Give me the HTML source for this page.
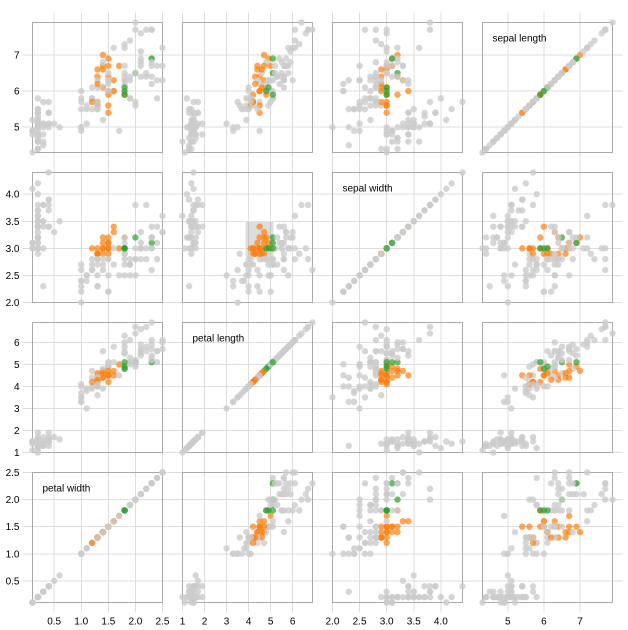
<!DOCTYPE html>
<html><head><meta charset="utf-8">
<style>
html,body{margin:0;padding:0;background:#fff;}
svg{display:block;font-family:"Liberation Sans",sans-serif;font-size:10px;}
.grid line{stroke:#ddd;shape-rendering:crispEdges;}
.frame{fill:none;stroke:#aaa;shape-rendering:crispEdges;}
</style></head>
<body>
<svg id="chart" width="628" height="630"></svg>
<script>
const traits = ["sepal length","sepal width","petal length","petal width"];
const species = ["setosa","versicolor","virginica"];
const speciesColors = ["#1f77b4","#ff7f0e","#2ca02c"];
const sepalLength = [5.1,4.9,4.7,4.6,5.0,5.4,4.6,5.0,4.4,4.9,5.4,4.8,4.8,4.3,5.8,5.7,5.4,5.1,5.7,5.1,5.4,5.1,4.6,5.1,4.8,5.0,5.0,5.2,5.2,4.7,4.8,5.4,5.2,5.5,4.9,5.0,5.5,4.9,4.4,5.1,5.0,4.5,4.4,5.0,5.1,4.8,5.1,4.6,5.3,5.0,
7.0,6.4,6.9,5.5,6.5,5.7,6.3,4.9,6.6,5.2,5.0,5.9,6.0,6.1,5.6,6.7,5.6,5.8,6.2,5.6,5.9,6.1,6.3,6.1,6.4,6.6,6.8,6.7,6.0,5.7,5.5,5.5,5.8,6.0,5.4,6.0,6.7,6.3,5.6,5.5,5.5,6.1,5.8,5.0,5.6,5.7,5.7,6.2,5.1,5.7,
6.3,5.8,7.1,6.3,6.5,7.6,4.9,7.3,6.7,7.2,6.5,6.4,6.8,5.7,5.8,6.4,6.5,7.7,7.7,6.0,6.9,5.6,7.7,6.3,6.7,7.2,6.2,6.1,6.4,7.2,7.4,7.9,6.4,6.3,6.1,7.7,6.3,6.4,6.0,6.9,6.7,6.9,5.8,6.8,6.7,6.7,6.3,6.5,6.2,5.9];
const sepalWidth = [3.5,3.0,3.2,3.1,3.6,3.9,3.4,3.4,2.9,3.1,3.7,3.4,3.0,3.0,4.0,4.4,3.9,3.5,3.8,3.8,3.4,3.7,3.6,3.3,3.4,3.0,3.4,3.5,3.4,3.2,3.1,3.4,4.1,4.2,3.1,3.2,3.5,3.1,3.0,3.4,3.5,2.3,3.2,3.5,3.8,3.0,3.8,3.2,3.7,3.3,
3.2,3.2,3.1,2.3,2.8,2.8,3.3,2.4,2.9,2.7,2.0,3.0,2.2,2.9,2.9,3.1,3.0,2.7,2.2,2.5,3.2,2.8,2.5,2.8,2.9,3.0,2.8,3.0,2.9,2.6,2.4,2.4,2.7,2.7,3.0,3.4,3.1,2.3,3.0,2.5,2.6,3.0,2.6,2.3,2.7,3.0,2.9,2.9,2.5,2.8,
3.3,2.7,3.0,2.9,3.0,3.0,2.5,2.9,2.5,3.6,3.2,2.7,3.0,2.5,2.8,3.2,3.0,3.8,2.6,2.2,3.2,2.8,2.8,2.7,3.3,3.2,2.8,3.0,2.8,3.0,2.8,3.8,2.8,2.8,2.6,3.0,3.4,3.1,3.0,3.1,3.1,3.1,2.7,3.2,3.3,3.0,2.5,3.0,3.4,3.0];
const petalLength = [1.4,1.4,1.3,1.5,1.4,1.7,1.4,1.5,1.4,1.5,1.5,1.6,1.4,1.1,1.2,1.5,1.3,1.4,1.7,1.5,1.7,1.5,1.0,1.7,1.9,1.6,1.6,1.5,1.4,1.6,1.6,1.5,1.5,1.4,1.5,1.2,1.3,1.5,1.3,1.5,1.3,1.3,1.3,1.6,1.9,1.4,1.6,1.4,1.5,1.4,
4.7,4.5,4.9,4.0,4.6,4.5,4.7,3.3,4.6,3.9,3.5,4.2,4.0,4.7,3.6,4.4,4.5,4.1,4.5,3.9,4.8,4.0,4.9,4.7,4.3,4.4,4.8,5.0,4.5,3.5,3.8,3.7,3.9,5.1,4.5,4.5,4.7,4.4,4.1,4.0,4.4,4.6,4.0,3.3,4.2,4.2,4.2,4.3,3.0,4.1,
6.0,5.1,5.9,5.6,5.8,6.6,4.5,6.3,5.8,6.1,5.1,5.3,5.5,5.0,5.1,5.3,5.5,6.7,6.9,5.0,5.7,4.9,6.7,4.9,5.7,6.0,4.8,4.9,5.6,5.8,6.1,6.4,5.6,5.1,5.6,6.1,5.6,5.5,4.8,5.4,5.6,5.1,5.1,5.9,5.7,5.2,5.0,5.2,5.4,5.1];
const petalWidth = [0.2,0.2,0.2,0.2,0.2,0.4,0.3,0.2,0.2,0.1,0.2,0.2,0.1,0.1,0.2,0.4,0.4,0.3,0.3,0.3,0.2,0.4,0.2,0.5,0.2,0.2,0.4,0.2,0.2,0.2,0.2,0.4,0.1,0.2,0.1,0.2,0.2,0.1,0.2,0.2,0.3,0.3,0.2,0.6,0.4,0.3,0.2,0.2,0.2,0.2,
1.4,1.5,1.5,1.3,1.5,1.3,1.6,1.0,1.3,1.4,1.0,1.5,1.0,1.4,1.3,1.4,1.5,1.0,1.5,1.1,1.8,1.3,1.5,1.2,1.3,1.4,1.4,1.7,1.5,1.0,1.1,1.0,1.2,1.6,1.5,1.6,1.5,1.3,1.3,1.3,1.2,1.4,1.2,1.0,1.3,1.2,1.3,1.3,1.1,1.3,
2.5,1.9,2.1,1.8,2.2,2.1,1.7,1.8,1.8,2.5,2.0,1.9,2.1,2.0,2.4,2.3,1.8,2.2,2.3,1.5,2.3,2.0,2.0,1.8,2.1,1.8,1.8,1.8,2.1,1.6,1.9,2.0,2.2,1.5,1.4,2.3,2.4,1.8,1.8,2.1,2.4,2.3,1.9,2.3,2.5,2.3,1.9,2.0,2.3,1.8];
const speciesIndex = Array.from({length:150},(_,k)=>Math.floor(k/50));
const tickValues = [[5,6,7],[2.0,2.5,3.0,3.5,4.0],[1,2,3,4,5,6],[0.5,1.0,1.5,2.0,2.5]];
const tickLabels = [["5","6","7"],["2.0","2.5","3.0","3.5","4.0"],["1","2","3","4","5","6"],["0.5","1.0","1.5","2.0","2.5"]];
const brushX = [3.84,5.15]; // petal length
const brushY = [2.84,3.505]; // sepal width

const values = [sepalLength,sepalWidth,petalLength,petalWidth];
const NS="http://www.w3.org/2000/svg";
const svg=document.getElementById("chart");
const size=150,pad=20,n=4,ox=22.5,oy=12.5;
function mk(tag,attrs,parent){const e=document.createElementNS(NS,tag);for(const k in attrs)e.setAttribute(k,attrs[k]);(parent||svg).appendChild(e);return e;}
function ext(a){return [Math.min(...a),Math.max(...a)];}
const domains=values.map(ext);
function xs(t,v){const d=domains[t];return pad/2+(v-d[0])/(d[1]-d[0])*(size-pad);}
function ys(t,v){const d=domains[t];return size-pad/2-(v-d[0])/(d[1]-d[0])*(size-pad);}
const colTrait=c=>n-1-c;

// grid + axes
const grid=mk("g",{class:"grid"});


for(let c=0;c<n;c++){
  const t=colTrait(c);
  tickValues[t].forEach((v,k)=>{
    const x=ox+c*size+xs(t,v);
    mk("line",{x1:x,x2:x,y1:oy,y2:oy+size*n},grid);
    const tx=mk("text",{x:x,y:oy+size*n+12,"text-anchor":"middle",fill:"#000"});
    tx.textContent=tickLabels[t][k];
    
    
  });
}
for(let r=0;r<n;r++){
  const t=r;
  tickValues[t].forEach((v,k)=>{
    const y=oy+r*size+ys(t,v);
    mk("line",{x1:ox,x2:ox+size*n,y1:y,y2:y},grid);
    const ty=mk("text",{x:ox-3,y:y+3.5,"text-anchor":"end",fill:"#000"});
    ty.textContent=tickLabels[t][k];
    
    
  });
}
function selected(k){
  return petalLength[k]>=brushX[0]&&petalLength[k]<=brushX[1]&&sepalWidth[k]>=brushY[0]&&sepalWidth[k]<=brushY[1];
}
for(let r=0;r<n;r++)for(let c=0;c<n;c++){
  const tx=colTrait(c),ty=r;
  const g=mk("g",{transform:`translate(${ox+c*size},${oy+r*size})`});
  
  
  const f=mk("rect",{class:"frame",x:pad/2,y:pad/2,width:size-pad,height:size-pad},g);
  
  
  if(tx===ty){
    const lab=mk("text",{x:pad,y:pad+9,fill:"#000"},g);
    lab.textContent=traits[tx];
    
    
  }
  if(tx===2&&ty===1){
    const x0=xs(2,brushX[0]),x1=xs(2,brushX[1]),y0=ys(1,brushY[1]),y1=ys(1,brushY[0]);
    const b=mk("rect",{x:x0,y:y0,width:x1-x0,height:y1-y0,fill:"#777","fill-opacity":0.25,stroke:"#fff"},g);
    
    
  }
  for(let k=0;k<150;k++){
    const sel=selected(k);
    const p=mk("circle",{cx:xs(tx,values[tx][k]),cy:ys(ty,values[ty][k]),r:3.2,
      fill:sel?speciesColors[speciesIndex[k]]:"#ccc","fill-opacity":sel?0.7:0.8},g);
    
    
  }
}
</script>
</body></html>
